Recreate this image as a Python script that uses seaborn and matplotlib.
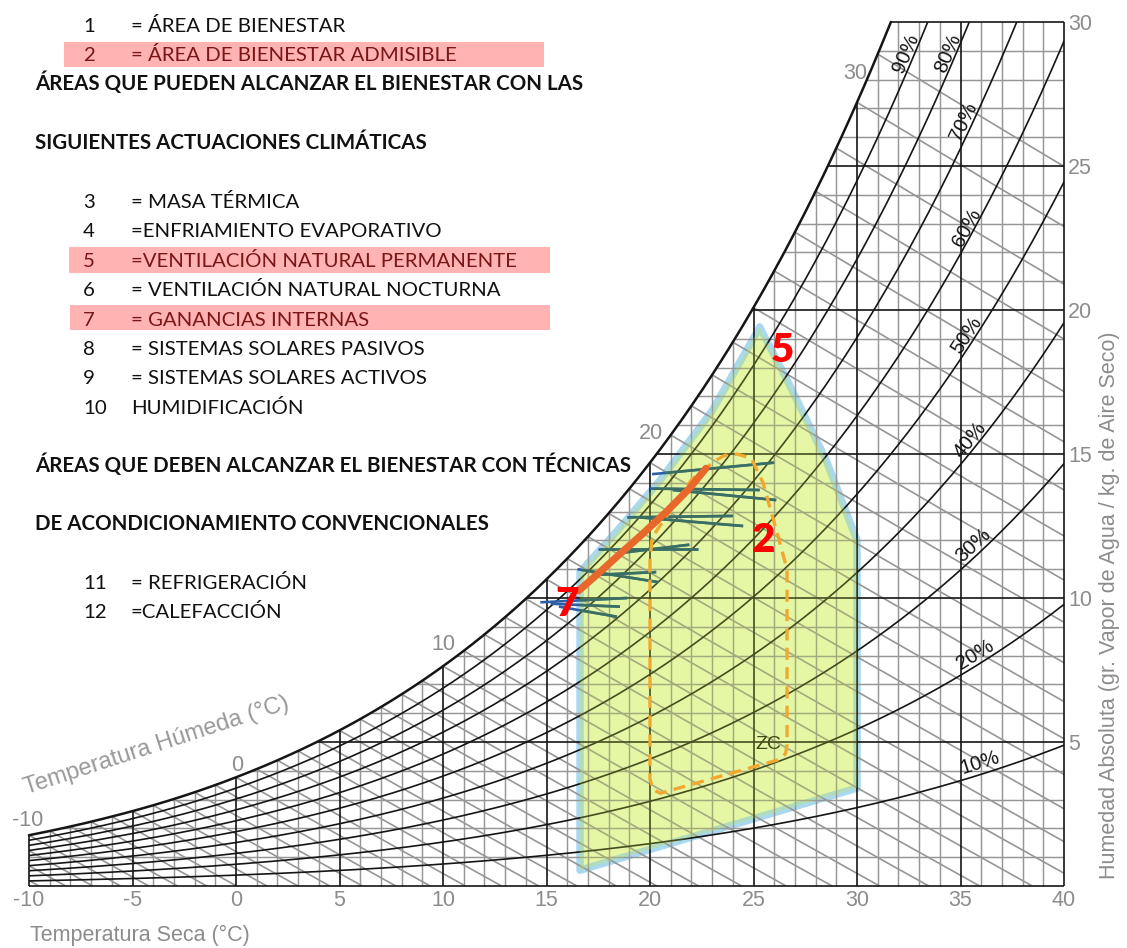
import numpy as np
import pandas as pd
import matplotlib
matplotlib.use("Agg")
import matplotlib.pyplot as plt
from matplotlib.patches import Polygon, Rectangle
import seaborn as sns

# ---------------- data ----------------
# saturation vapour pressure over water (kPa) at whole degrees (standard table)
table_temp = list(range(-16, 41))
table_psat_kpa = [0.1761, 0.1912, 0.2074, 0.2250, 0.2440, 0.2644,
                  0.2865, 0.3101, 0.3354, 0.3624, 0.3914, 0.4217, 0.4545, 0.4897, 0.5275, 0.5679,
                  0.6112, 0.6571, 0.7060, 0.7581, 0.8135, 0.8726, 0.9354, 1.0021, 1.0730, 1.1482,
                  1.2282, 1.3129, 1.4028, 1.4981, 1.5989, 1.7057, 1.8188, 1.9383, 2.0647, 2.1982,
                  2.3392, 2.4881, 2.6452, 2.8109, 2.9856, 3.1697, 3.3637, 3.5679, 3.7828, 4.0089,
                  4.2467, 4.4966, 4.7592, 5.0351, 5.3247, 5.6286, 5.9475, 6.2818, 6.6324, 6.9997, 7.3844]

rh_levels = [10, 20, 30, 40, 50, 60, 70, 80, 90]
rh_label_T = [35.94, 35.70, 35.60, 35.46, 35.31, 35.31, 35.17, 34.40, 32.37]
rh_label_W = [4.27, 8.02, 11.84, 15.49, 19.13, 22.85, 26.53, 28.92, 28.92]

wetbulb_label_text = ["-10", "0", "10", "20", "30"]
wetbulb_label_T = [-10.05, 0.05, 10.0, 20.05, 29.9]
wetbulb_label_W = [2.29, 4.2, 8.4, 15.7, 28.2]

x_ticks = [-10, -5, 0, 5, 10, 15, 20, 25, 30, 35, 40]
y_ticks = [5, 10, 15, 20, 25, 30]

# zone 5 (ventilacion natural permanente)
zone5_T = [25.3, 26.6, 28.5, 30.0, 30.0, 16.62, 16.62, 18.5, 20.5, 23.0, 25.3]
zone5_W = [19.4, 17.6, 14.8, 12.0, 3.4, 0.55, 10.9, 12.4, 14.1, 16.5, 19.4]

# zone 2 (area de bienestar admisible, dashed)
zone2_T = [20.0, 20.0, 20.15, 20.5, 26.3, 26.55, 26.62, 26.62, 26.14, 25.46, 24.9,
           24.2, 23.6, 23.24, 22.56, 22.0, 20.9, 20.1, 20.0]
zone2_W = [11.3, 3.7, 3.35, 3.22, 4.4, 4.6, 4.9, 11.0, 12.26, 14.0, 14.85,
           15.0, 14.95, 14.8, 14.44, 14.1, 12.95, 12.1, 11.3]

# zone 7 (ganancias internas) thick line
gain_T = [16.55, 17.5, 18.5, 19.6, 20.8, 21.9, 22.7]
gain_W = [10.25, 10.85, 11.5, 12.2, 13.0, 13.8, 14.5]

# monthly climate strokes
climate_T_start = [20.1, 20.0, 21.1, 18.9, 19.5, 17.5, 18.4, 16.5, 17.3, 14.7, 15.2, 15.6]
climate_W_start = [14.3, 13.8, 13.75, 12.8, 12.8, 11.7, 11.55, 11.0, 10.8, 9.85, 9.8, 9.7]
climate_T_end = [26.0, 25.3, 26.1, 24.0, 24.5, 22.3, 21.9, 20.4, 20.3, 18.9, 18.55, 18.4]
climate_W_end = [14.7, 13.75, 13.4, 12.85, 12.5, 11.7, 11.85, 10.55, 10.9, 10.0, 9.7, 9.35]

zone_labels = ["5", "2", "7"]
zone_label_T = [26.38, 25.46, 15.99]
zone_label_W = [18.61, 12.01, 9.76]

legend_numbers = ["1", "2", "3", "4", "5", "6", "7", "8", "9", "10", "11", "12"]
legend_texts = ["= ÁREA DE BIENESTAR", "= ÁREA DE BIENESTAR ADMISIBLE", "= MASA TÉRMICA",
                "=ENFRIAMIENTO EVAPORATIVO", "=VENTILACIÓN NATURAL PERMANENTE",
                "= VENTILACIÓN NATURAL NOCTURNA", "= GANANCIAS INTERNAS",
                "= SISTEMAS SOLARES PASIVOS", "= SISTEMAS SOLARES ACTIVOS", "HUMIDIFICACIÓN",
                "= REFRIGERACIÓN", "=CALEFACCIÓN"]
legend_baseline_px = [32, 61, 208, 237, 267, 296, 326, 355, 384, 414, 589, 618]
highlighted = ["2", "5", "7"]
header_texts = ["ÁREAS QUE PUEDEN ALCANZAR EL BIENESTAR CON LAS",
                "SIGUIENTES ACTUACIONES CLIMÁTICAS",
                "ÁREAS QUE DEBEN ALCANZAR EL BIENESTAR CON TÉCNICAS",
                "DE ACONDICIONAMIENTO CONVENCIONALES"]
header_baseline_px = [90, 149, 472, 530]

# ---------------- style ----------------
sns.set_theme(style="white")
plt.rcParams['font.family'] = ['Liberation Sans', 'DejaVu Sans']

W_PX, H_PX = 1127, 948
fig = plt.figure(figsize=(W_PX / 100, H_PX / 100), dpi=100)
fig.patch.set_facecolor('white')
ax = fig.add_axes([29 / W_PX, 62 / H_PX, 1035 / W_PX, 864 / H_PX])
ax.set_xlim(-10, 40)
ax.set_ylim(0, 30)
ax.set_facecolor('none')
for s in ax.spines.values():
    s.set_visible(False)

GREY_LINE = '#969696'
BLACK = '#151515'
GREY_TXT = '#8c8c8c'

P_ATM = 101.325
log_ps = np.log(table_psat_kpa)


def w_sat(T):
    p = np.exp(np.interp(T, table_temp, log_ps))
    return 622.0 * p / (P_ATM - p)


T_fine = np.linspace(-10, 40, 2001)
W_fine = w_sat(T_fine)
T_top = float(np.interp(30.0, W_fine, T_fine))

# grid
for t in range(-10, 41):
    top = min(float(w_sat(t)), 30.0)
    blk = (t % 5 == 0)
    ax.plot([t, t], [0, top], color=BLACK if blk else GREY_LINE,
            lw=1.2 if blk else 1.05, zorder=2.2 if blk else 2, clip_on=False,
            solid_capstyle='butt')
for w in range(0, 31):
    t0 = max(-10.0, float(np.interp(w, W_fine, T_fine)))
    blk = (w % 5 == 0)
    ax.plot([t0, 40], [w, w], color=BLACK if blk else GREY_LINE,
            lw=1.2 if blk else 1.05, zorder=2.2 if blk else 2, clip_on=False,
            solid_capstyle='butt')

# wet bulb lines
for tw in range(-14, 32):
    ws = float(w_sat(tw)) / 1000.0
    T = np.linspace(tw, 60, 600)
    W = ((2501 - 2.326 * tw) * ws - 1.006 * (T - tw)) / (2501 + 1.86 * T - 4.186 * tw) * 1000
    m = W >= 0
    Tm, Wm = list(T[m]), list(W[m])
    if m.sum() < len(T):
        t0 = float(np.interp(0.0, W[::-1], T[::-1]))
        Tm.append(t0)
        Wm.append(0.0)
    ax.plot(Tm, Wm, color=GREY_LINE, lw=1.2, zorder=2.1, solid_capstyle='butt')

# RH curves via seaborn
rows = []
for rh in rh_levels:
    W = rh / 100.0 * W_fine
    m = W <= 30
    Tm, Wm = T_fine[m], W[m]
    for a, b in zip(Tm, Wm):
        rows.append((a, b, rh))
    if W.max() > 30:
        rows.append((float(np.interp(30, W, T_fine)), 30.0, rh))
rh_df = pd.DataFrame(rows, columns=['T', 'W', 'rh'])
sns.lineplot(data=rh_df, x='T', y='W', units='rh', estimator=None, sort=False,
             color=BLACK, lw=1.2, ax=ax, legend=False, zorder=2.3)
ax.set_xlabel('')
ax.set_ylabel('')

# saturation curve
ms = T_fine <= T_top
ax.plot(list(T_fine[ms]) + [T_top], list(W_fine[ms]) + [30.0], color=BLACK, lw=1.8,
        zorder=2.4, clip_on=False)

# zone 5 polygon
pts5 = np.column_stack([zone5_T, zone5_W])
ax.add_patch(Polygon(pts5, closed=True, facecolor='#f0fccc', edgecolor='none', zorder=1))
ax.plot(zone5_T, zone5_W, color='#a9d8ef', lw=5.4, zorder=1.5, solid_joinstyle='round')
tint = Polygon(pts5, closed=True, facecolor='#c8e63c', edgecolor='none', alpha=0.27, zorder=3)
ax.add_patch(tint)

# climate strokes
for t1, w1, t2, w2 in zip(climate_T_start, climate_W_start, climate_T_end, climate_W_end):
    ax.plot([t1, t2], [w1, w2], color='#2d5fa8', lw=1.9, zorder=2.6, solid_capstyle='butt')
    ln, = ax.plot([t1, t2], [w1, w2], color='#3a6e62', lw=1.9, zorder=3.5, solid_capstyle='butt')
    ln.set_clip_path(tint)

# zone 2 dashed
ax.plot(zone2_T, zone2_W, color='#f2a82e', lw=2.4, ls=(0, (3.6, 2.2)), zorder=4.5,
        dash_capstyle='butt')

# zone 7 thick line
ax.plot(gain_T, gain_W, color='#e8682c', lw=5.2, zorder=4.6, solid_capstyle='round')

# zone labels
for s, t, w in zip(zone_labels, zone_label_T, zone_label_W):
    ax.text(t, w, s, color='#ff0000', fontsize=29, fontweight='heavy', ha='center', va='center',
            family=['Lato', 'DejaVu Sans'], zorder=6)
ax.text(25.7, 4.9, "ZC", color='#3f4a18', fontsize=14, ha='center', va='center', zorder=6)

# RH labels, rotated along their curves
for rh, t, w in zip(rh_levels, rh_label_T, rh_label_W):
    p1 = ax.transData.transform((t - 0.2, rh / 100.0 * float(w_sat(t - 0.2))))
    p2 = ax.transData.transform((t + 0.2, rh / 100.0 * float(w_sat(t + 0.2))))
    ang = np.degrees(np.arctan2(p2[1] - p1[1], p2[0] - p1[0]))
    ax.text(t, w, f"{rh}%", rotation=ang, rotation_mode='anchor', ha='center',
            va='center', fontsize=14.5, color=BLACK, zorder=6)

# wet bulb labels
for s, t, w in zip(wetbulb_label_text, wetbulb_label_T, wetbulb_label_W):
    ax.text(t, w, s, color=GREY_TXT, fontsize=15.5, ha='center', va='center', zorder=6,
            clip_on=False)

# ticks
ax.set_xticks(x_ticks)
ax.set_xticklabels([str(v) for v in x_ticks])
ax.yaxis.tick_right()
ax.set_yticks(y_ticks)
ax.set_yticklabels([str(v) for v in y_ticks])
ax.tick_params(axis='x', length=0, pad=3, labelsize=15.5, labelcolor=GREY_TXT)
ax.tick_params(axis='y', length=0, pad=3, labelsize=15.5, labelcolor=GREY_TXT)
ax.grid(False)


def fx(x):
    return x / W_PX


def fy(y):
    return 1 - y / H_PX


fig.text(fx(30), fy(935), "Temperatura Seca (°C)", color=GREY_TXT, fontsize=15.5,
         ha='left', va='center')
fig.text(fx(1110), fy(605), "Humedad Absoluta (gr. Vapor de Agua / kg. de Aire Seco)",
         color=GREY_TXT, fontsize=15.5, rotation=90, ha='center', va='center')
fig.text(fx(157), fy(746), "Temperatura Húmeda (°C)", color='#999999', fontsize=17,
         rotation=18, ha='center', va='center', rotation_mode='anchor')

# legend block
pink_boxes = [(64, 42, 544, 67), (69, 247, 550, 273), (70, 305, 550, 330)]
for x0, y0, x1, y1 in pink_boxes:
    fig.patches.append(Rectangle((fx(x0), fy(y1)), fx(x1) - fx(x0), fy(y0) - fy(y1),
                                 transform=fig.transFigure, facecolor='#ffb3b3',
                                 edgecolor='none', zorder=0))
LEG_FONT = ['Lato', 'DejaVu Sans']
for num, txt, yb in zip(legend_numbers, legend_texts, legend_baseline_px):
    col = '#7a1616' if num in highlighted else '#111111'
    fig.text(fx(83), fy(yb), num, color=col, fontsize=14.7, ha='left', va='baseline',
             family=LEG_FONT)
    fig.text(fx(131), fy(yb), txt, color=col, fontsize=14.7, ha='left', va='baseline',
             family=LEG_FONT)
for txt, yb in zip(header_texts, header_baseline_px):
    fig.text(fx(35), fy(yb), txt, color='#111111', fontsize=14.8, fontweight='bold',
             ha='left', va='baseline', family=LEG_FONT)

fig.savefig("out.png", dpi=100)
